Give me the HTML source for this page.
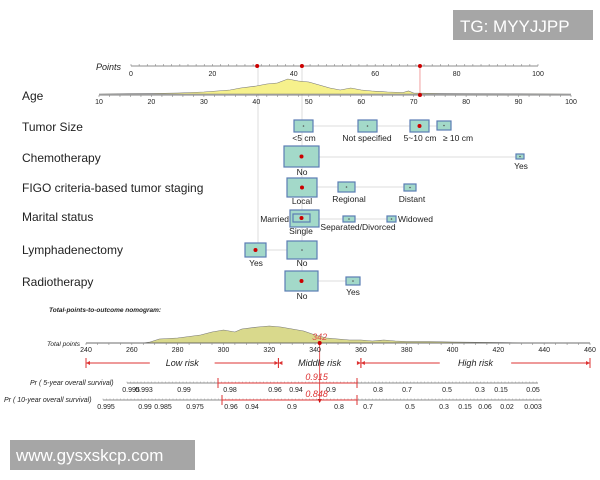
<!DOCTYPE html>
<html><head><meta charset="utf-8"><style>
html,body{margin:0;padding:0;background:#fff;width:600px;height:480px;overflow:hidden}
svg{display:block;font-family:"Liberation Sans",sans-serif}
</style></head><body>
<svg id="c" width="600" height="480" viewBox="0 0 600 480">
<rect x="453" y="10" width="140" height="30" fill="#a6a6a6"/>
<text x="460" y="32" fill="#fff" font-size="17">TG: MYYJJPP</text>
<rect x="10" y="440" width="185" height="30" fill="#a6a6a6"/>
<text x="16" y="461" fill="#fff" font-size="17">www.gysxskcp.com</text>
</svg>
<script>
// ---- data ----
const pointTicks=[0,10,20,30,40,50,60,70,80,90,100];
const pointLabels=[0,20,40,60,80,100];
const ageTicks=[10,20,30,40,50,60,70,80,90,100];
const ageDensX=[10,20,25,30,35,37,40,42,44,46,48,50,52,54,56,58,60,62,65,68,69,70,75,80,90,100];
const ageDensY=[0,0.5,1,2,4,6,8,10,11,15,13,12,9,6,4,6,4,3,2,1.5,3,1,0.5,0.3,0.2,0];
const selectedPoints=[31,42,71];
const totalTicks=[240,260,280,300,320,340,360,380,400,420,440,460];
const totDensX=[240,265,268,272,280,290,295,300,305,308,315,320,325,330,335,340,345,350,355,360,365,370,375,380,390,400,420,430,460];
const totDensY=[0,0,1,4,5,8,11,13,11,14,16,17,16,14,12,8,5,4,3,3,2,3,2,1.5,1.5,1,0.5,0,0];
const riskCuts=[240,324,360,460];
const riskNames=["Low risk","Middle risk","High risk"];
const totalScore=342;
const surv5Labels=["0.995","0.993","0.99","0.98","0.96","0.94","0.9","0.8","0.7","0.5","0.3","0.15","0.05"];
const surv5Pos=[131,144,184,230,275,296,331,378,407,447,480,501,533];
const surv10Labels=["0.995","0.99","0.985","0.975","0.96","0.94","0.9","0.8","0.7","0.5","0.3","0.15","0.06","0.02","0.003"];
const surv10Pos=[106,145,163,195,231,252,292,339,368,410,444,465,485,507,533];
const surv5Value="0.915", surv10Value="0.848";
// categorical rows: [label, box center x(px), box w, box h, label dx, label dy, selected]
const rowNames=["Age","Tumor Size","Chemotherapy","FIGO criteria-based tumor staging","Marital status","Lymphadenectomy","Radiotherapy"];
const rowY=[96,127,158,188,217,250,282];
// ---- scales ----
const NS="http://www.w3.org/2000/svg";
const svg=document.getElementById('c');
const xP=p=>131+p*(538-131)/100;
const xAge=a=>99+(a-10)*(571-99)/90;
const xT=t=>86+(t-240)*(590-86)/220;
function el(tag,attrs,parent){const e=document.createElementNS(NS,tag);for(const k in attrs)e.setAttribute(k,attrs[k]);(parent||svg).appendChild(e);return e;}
function txt(x,y,s,size,attrs){const t=el('text',Object.assign({x:x,y:y,'font-size':size,fill:'#222'},attrs||{}));t.textContent=s;return t;}
const g=el('g',{});


// guide lines
let l=el('line',{x1:258,y1:66,x2:258,y2:250,stroke:'#ddd'},g);
l=el('line',{x1:302,y1:66,x2:302,y2:282,stroke:'#ddd'},g);
// Points axis
let t=txt(96,70,"Points",9,{'font-style':'italic'});


el('line',{x1:xP(0),y1:66,x2:xP(100),y2:66,stroke:'#666','stroke-width':0.8},g);
for(let p=0;p<=100;p+=2){el('line',{x1:xP(p),y1:64,x2:xP(p),y2:66,stroke:'#888','stroke-width':0.6},g);}
pointLabels.forEach(p=>{const tt=txt(xP(p),76,String(p),7,{'text-anchor':'middle'});});
// age density
let d="M"+xAge(ageDensX[0])+",94 ";
ageDensX.forEach((a,i)=>{d+="L"+xAge(a).toFixed(1)+","+(94-ageDensY[i]).toFixed(1)+" ";});
d+="L"+xAge(100)+",94Z";
const ad=el('path',{d:d,fill:'#f6f18c',stroke:'#777','stroke-width':0.6},g);


el('line',{x1:xAge(10),y1:95,x2:xAge(100),y2:95,stroke:'#555','stroke-width':0.8},g);
for(let a=10;a<=100;a+=2){el('line',{x1:xAge(a),y1:95,x2:xAge(a),y2:97,stroke:'#888','stroke-width':0.6},g);}
ageTicks.forEach(a=>{const tt=txt(xAge(a),104,String(a),7,{'text-anchor':'middle'});});
// red line at 71
el('line',{x1:xP(71),y1:66,x2:xP(71),y2:95,stroke:'#e88','stroke-width':0.8},g);
el('circle',{cx:xP(71),cy:95,r:2,fill:'#c00'},g);
selectedPoints.forEach(p=>{const c=el('circle',{cx:xP(p),cy:66,r:2,fill:'#c00'},g);});
// row labels
rowNames.forEach((n,i)=>{const tt=txt(22,rowY[i]+4,n,12);});
// boxes
function box(x1,y1,x2,y2,sel,name){
  const r=el('rect',{x:x1,y:y1,width:x2-x1,height:y2-y1,fill:'#a3d9c9',stroke:'#5b7db5','stroke-width':1.2},g);
  
  
  el('circle',{cx:(x1+x2)/2,cy:(y1+y2)/2,r:sel?2:0.8,fill:sel?'#c00':'#555'},g);
}
function conn(x1,x2,y){el('line',{x1:x1,y1:y,x2:x2,y2:y,stroke:'#ddd'},g);}
function lab(x,y,s,anchor){const tt=txt(x,y,s,8.5,{'text-anchor':anchor||'middle'});}
// tumor size
conn(303,444,126);
box(294,120,313,132,false,'tumor-lt5-box');box(358,120,377,132,false,'tumor-notspecified-box');
box(410,120,429,132,true,'tumor-5to10-box');box(437,121,451,130,false,'tumor-ge10-box');
lab(304,141,"<5 cm");lab(367,141,"Not specified");lab(420,141,"5~10 cm");lab(458,141,"≥ 10 cm");
// chemo
conn(302,520,157);
box(284,146,319,167,true,'chemo-no-box');box(516,154,524,159,false,'chemo-yes-box');
lab(302,175,"No");lab(521,169,"Yes");
// FIGO
conn(302,410,187);
box(287,178,317,197,true,'figo-local-box');box(338,182,355,192,false,'figo-regional-box');box(404,184,416,191,false,'figo-distant-box');
lab(302,204,"Local");lab(349,202,"Regional");lab(412,202,"Distant");
// marital
conn(302,392,219);
box(290,210,319,227,false,'marital-single-box');box(293,214,310,222,true,'marital-married-box');
box(343,216,355,222,false,'marital-separated-box');box(387,216,396,222,false,'marital-widowed-box');
lab(289,222,"Married",'end');lab(301,234,"Single");lab(358,230,"Separated/Divorced");lab(398,222,"Widowed",'start');
// lymph
conn(256,302,250);
box(245,243,266,257,true,'lymph-yes-box');box(287,241,317,259,false,'lymph-no-box');
lab(256,266,"Yes");lab(302,266,"No");
// radio
conn(302,353,281);
box(285,271,318,291,true,'radio-no-box');box(346,277,360,285,false,'radio-yes-box');
lab(302,299,"No");lab(353,295,"Yes");
// total points section
t=txt(49,312,"Total-points-to-outcome nomogram:",6.5,{'font-style':'italic','font-weight':'bold'});


d="M"+xT(totDensX[0])+",343 ";
totDensX.forEach((v,i)=>{d+="L"+xT(v).toFixed(1)+","+(343-totDensY[i]).toFixed(1)+" ";});
d+="Z";
const td=el('path',{d:d,fill:'#d9d98c',stroke:'#777','stroke-width':0.6},g);


t=txt(47,346,"Total points",6.5,{'font-style':'italic'});


el('line',{x1:xT(240),y1:343,x2:xT(460),y2:343,stroke:'#555','stroke-width':0.8},g);
for(let v=240;v<=460;v+=5){el('line',{x1:xT(v),y1:343,x2:xT(v),y2:345,stroke:'#888','stroke-width':0.6},g);}
totalTicks.forEach(v=>{const tt=txt(xT(v),352,String(v),7,{'text-anchor':'middle'});});
// score marker
const sx=xT(totalScore);
el('line',{x1:sx,y1:343,x2:sx,y2:401,stroke:'#d33','stroke-width':0.8},g);
el('circle',{cx:sx,cy:343,r:2,fill:'#c00'},g);
el('path',{d:`M${sx-2},399 L${sx+2},399 L${sx},403Z`,fill:'#c00'},g);
t=txt(sx,340,String(totalScore),9,{'text-anchor':'middle',fill:'#e05050','font-style':'italic'});


// risk groups
for(let i=0;i<3;i++){
  const a=xT(riskCuts[i]),b=xT(riskCuts[i+1]),m=(a+b)/2,w=riskNames[i].length*3.3+6;
  const gg=el('g',{},g);
  
  
  el('line',{x1:a,y1:363,x2:m-w,y2:363,stroke:'#d33','stroke-width':1},gg);
  el('line',{x1:m+w,y1:363,x2:b,y2:363,stroke:'#d33','stroke-width':1},gg);
  el('line',{x1:a,y1:358,x2:a,y2:368,stroke:'#d33','stroke-width':1},gg);
  el('line',{x1:b,y1:358,x2:b,y2:368,stroke:'#d33','stroke-width':1},gg);
  el('path',{d:`M${a},363 l4,-2 v4Z M${b},363 l-4,-2 v4Z`,fill:'#d33'},gg);
  const tt=txt(m,366,riskNames[i],9,{'text-anchor':'middle','font-style':'italic'});
}
// survival axes
function survAxis(y,x1,x2,labels,pos,title,tx,br1,br2,val,name){
  const gg=el('g',{},g);
  
  
  txt(tx,y+2,title,7,{'font-style':'italic'}).setAttribute('fill','#222');
  el('line',{x1:x1,y1:y,x2:x2,y2:y,stroke:'#666','stroke-width':0.8},gg);
  for(let x=x1;x<=x2;x+=3.5){el('line',{x1:x,y1:y-1.5,x2:x,y2:y,stroke:'#999','stroke-width':0.5},gg);}
  labels.forEach((s,i)=>{const tt=txt(pos[i],y+9,s,7,{'text-anchor':'middle'});});
  el('line',{x1:br1,y1:y,x2:br2,y2:y,stroke:'#d33','stroke-width':1},gg);
  el('line',{x1:br1,y1:y-5,x2:br1,y2:y+5,stroke:'#d33','stroke-width':1},gg);
  el('line',{x1:br2,y1:y-5,x2:br2,y2:y+5,stroke:'#d33','stroke-width':1},gg);
  txt(sx-3,y-3,val,9,{'text-anchor':'middle',fill:'#d33','font-style':'italic'});
}
survAxis(383,127,538,surv5Labels,surv5Pos,"Pr ( 5-year overall survival)",30,218,357,surv5Value,'survival-5yr-axis');
survAxis(400,103,542,surv10Labels,surv10Pos,"Pr ( 10-year overall survival)",4,222,357,surv10Value,'survival-10yr-axis');
</script>
</body></html>
